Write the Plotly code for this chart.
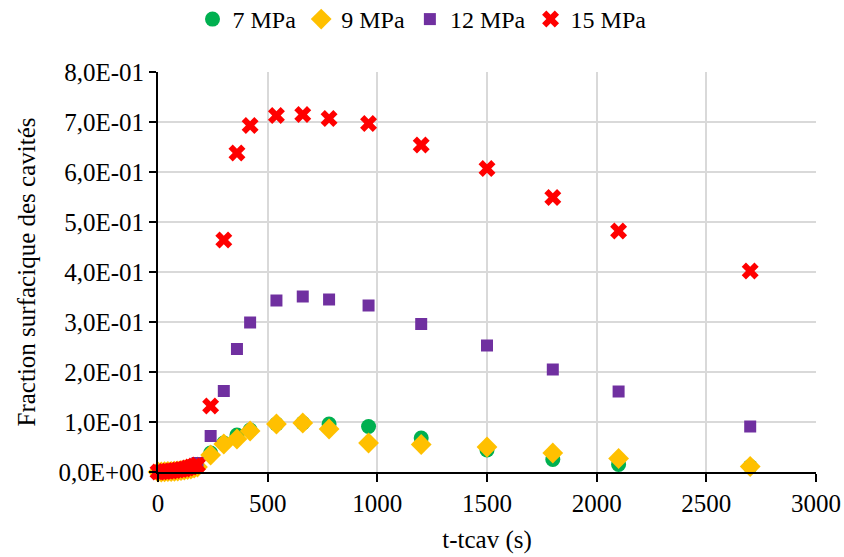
import plotly.graph_objects as go

# time after cavitation onset (s)
t = [0, 15, 30, 45, 60, 75, 90, 105, 120, 135, 150, 165, 180,
     240, 300, 360, 420, 540, 660, 780, 960, 1200, 1500, 1800, 2100, 2700]

# area fraction of cavities for each pressure
f_7mpa = [0, 0, 0.0005, 0.001, 0.001, 0.0015, 0.002, 0.003, 0.004, 0.005, 0.006, 0.008, 0.010,
          0.038, 0.058, 0.074, 0.084, 0.096, 0.098, 0.096, 0.091, 0.068, 0.044, 0.025, 0.015, 0.011]
f_9mpa = [0, 0, 0.0005, 0.001, 0.001, 0.0015, 0.002, 0.003, 0.004, 0.005, 0.006, 0.008, 0.010,
          0.034, 0.056, 0.066, 0.082, 0.096, 0.098, 0.086, 0.058, 0.055, 0.050, 0.038, 0.027, 0.011]
f_12mpa = [0, 0, 0.001, 0.001, 0.002, 0.003, 0.004, 0.005, 0.006, 0.008, 0.010, 0.014, 0.018,
           0.072, 0.162, 0.246, 0.299, 0.343, 0.351, 0.345, 0.333, 0.296, 0.253, 0.205, 0.161, 0.091]
f_15mpa = [0, 0.0005, 0.001, 0.0015, 0.002, 0.003, 0.004, 0.005, 0.006, 0.008, 0.010, 0.012, 0.014,
           0.132, 0.464, 0.638, 0.693, 0.713, 0.715, 0.707, 0.697, 0.654, 0.607, 0.549, 0.482, 0.402]

y_ticks = [0, 0.1, 0.2, 0.3, 0.4, 0.5, 0.6, 0.7, 0.8]
y_labels = ["0,0E+00", "1,0E-01", "2,0E-01", "3,0E-01", "4,0E-01",
            "5,0E-01", "6,0E-01", "7,0E-01", "8,0E-01"]
x_ticks = [0, 500, 1000, 1500, 2000, 2500, 3000]

serif = "Liberation Serif"

fig = go.Figure()
fig.add_trace(go.Scatter(x=t, y=f_7mpa, mode="markers", name="7 MPa", cliponaxis=False,
                         marker=dict(symbol="circle", size=15, color="#00B050")))
fig.add_trace(go.Scatter(x=t, y=f_9mpa, mode="markers", name="9 MPa", cliponaxis=False,
                         marker=dict(symbol="diamond", size=16, color="#FFC000")))
fig.add_trace(go.Scatter(x=t, y=f_12mpa, mode="markers", name="12 MPa", cliponaxis=False,
                         marker=dict(symbol="square", size=12, color="#7030A0")))
fig.add_trace(go.Scatter(x=t, y=f_15mpa, mode="markers", name="15 MPa", cliponaxis=False,
                         marker=dict(symbol="x", size=15, color="#FF0000")))

fig.update_layout(
    width=844, height=557,
    margin=dict(l=158, r=28, t=72, b=85, autoexpand=False),
    paper_bgcolor="white", plot_bgcolor="white",
    font=dict(family=serif, size=25, color="black"),
    legend=dict(orientation="h", xref="container", yref="container",
                x=0.5, xanchor="center", y=0.965, yanchor="middle",
                font=dict(family=serif, size=24, color="black"), itemwidth=30),
)
fig.update_xaxes(range=[0, 3000], tickvals=x_ticks, showline=True, linecolor="black",
                 linewidth=2, ticks="outside", ticklen=8, tickwidth=2, tickcolor="black",
                 showgrid=True, gridcolor="#d9d9d9", gridwidth=2, zeroline=False,
                 automargin=False, tickfont=dict(family=serif, size=25),
                 title=dict(text="t-tcav (s)", standoff=14, font=dict(family=serif, size=25)))
fig.update_yaxes(range=[0, 0.8], tickvals=y_ticks, ticktext=y_labels, showline=True,
                 linecolor="black", linewidth=2, ticks="outside", ticklen=7, tickwidth=2,
                 tickcolor="black", showgrid=True, gridcolor="#d9d9d9", gridwidth=2,
                 zeroline=False, automargin=False, tickfont=dict(family=serif, size=25),
                 title=dict(text="Fraction surfacique des cavités", standoff=16,
                            font=dict(family=serif, size=25)))

# drop the default page margin so the figure sits at the window corner
fig.write_html("out.html", config={"displayModeBar": False},
               post_script="document.body.style.margin='0';")
